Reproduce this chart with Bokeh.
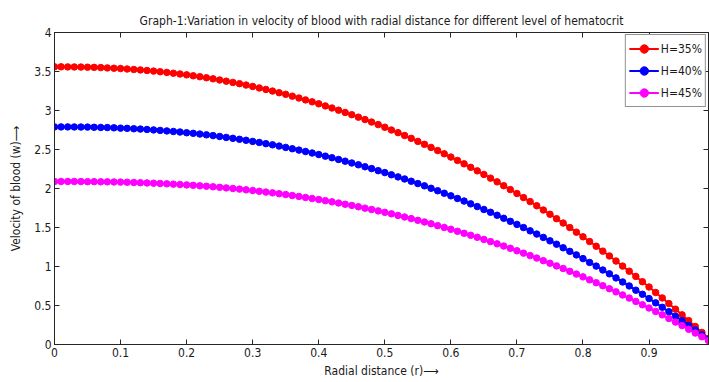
from bokeh.plotting import figure
from bokeh.models import Range1d, LinearAxis, FixedTicker, ColumnDataSource, Legend, LegendItem, CustomJSTickFormatter
from bokeh.embed import file_html
from bokeh.resources import INLINE

r = [round(i * 0.01, 2) for i in range(100)]

h35 = [3.560, 3.560, 3.559, 3.558, 3.557, 3.555, 3.553, 3.550, 3.546, 3.542,
       3.538, 3.532, 3.526, 3.520, 3.513, 3.505, 3.497, 3.488, 3.478, 3.468,
       3.457, 3.445, 3.433, 3.420, 3.406, 3.391, 3.376, 3.360, 3.344, 3.326,
       3.308, 3.289, 3.270, 3.249, 3.228, 3.207, 3.184, 3.160, 3.136, 3.111,
       3.086, 3.059, 3.032, 3.004, 2.975, 2.946, 2.915, 2.884, 2.852, 2.819,
       2.785, 2.750, 2.716, 2.680, 2.643, 2.604, 2.566, 2.527, 2.486, 2.445,
       2.403, 2.360, 2.316, 2.271, 2.226, 2.180, 2.133, 2.085, 2.036, 1.986,
       1.936, 1.884, 1.832, 1.779, 1.724, 1.670, 1.613, 1.557, 1.499, 1.440,
       1.381, 1.320, 1.260, 1.197, 1.135, 1.070, 1.005, 0.940, 0.873, 0.805,
       0.737, 0.667, 0.597, 0.525, 0.453, 0.380, 0.306, 0.231, 0.155, 0.078]

h40 = [2.790, 2.790, 2.790, 2.789, 2.788, 2.787, 2.785, 2.783, 2.781, 2.778,
       2.774, 2.771, 2.766, 2.762, 2.757, 2.751, 2.745, 2.738, 2.731, 2.724,
       2.715, 2.707, 2.698, 2.688, 2.678, 2.667, 2.655, 2.643, 2.631, 2.618,
       2.604, 2.590, 2.575, 2.560, 2.544, 2.527, 2.510, 2.492, 2.474, 2.455,
       2.435, 2.415, 2.394, 2.372, 2.350, 2.327, 2.304, 2.279, 2.255, 2.229,
       2.204, 2.176, 2.149, 2.122, 2.093, 2.063, 2.034, 2.003, 1.971, 1.939,
       1.906, 1.872, 1.839, 1.803, 1.768, 1.731, 1.695, 1.657, 1.618, 1.579,
       1.540, 1.499, 1.457, 1.416, 1.373, 1.329, 1.286, 1.240, 1.194, 1.149,
       1.101, 1.052, 1.005, 0.955, 0.906, 0.854, 0.802, 0.751, 0.696, 0.644,
       0.589, 0.534, 0.477, 0.421, 0.362, 0.305, 0.245, 0.186, 0.124, 0.063]

h45 = [2.090, 2.090, 2.090, 2.090, 2.089, 2.088, 2.088, 2.086, 2.085, 2.084,
       2.082, 2.080, 2.077, 2.074, 2.071, 2.068, 2.064, 2.060, 2.056, 2.051,
       2.046, 2.041, 2.035, 2.029, 2.022, 2.015, 2.008, 2.000, 1.992, 1.983,
       1.974, 1.964, 1.954, 1.944, 1.933, 1.922, 1.910, 1.898, 1.885, 1.872,
       1.858, 1.844, 1.829, 1.814, 1.798, 1.783, 1.766, 1.748, 1.731, 1.713,
       1.694, 1.675, 1.655, 1.635, 1.614, 1.592, 1.571, 1.548, 1.524, 1.501,
       1.477, 1.451, 1.426, 1.400, 1.374, 1.347, 1.319, 1.291, 1.262, 1.233,
       1.202, 1.171, 1.140, 1.108, 1.075, 1.042, 1.008, 0.974, 0.938, 0.903,
       0.867, 0.829, 0.792, 0.754, 0.715, 0.675, 0.635, 0.595, 0.552, 0.510,
       0.468, 0.424, 0.380, 0.333, 0.288, 0.242, 0.195, 0.147, 0.099, 0.050]

series_labels = ["H=35%", "H=40%", "H=45%"]
series_colors = ["#ff0000", "#0000ff", "#ff00ff"]

x_ticks = [0, 0.1, 0.2, 0.3, 0.4, 0.5, 0.6, 0.7, 0.8, 0.9]
x_tick_labels = ["0", "0.1", "0.2", "0.3", "0.4", "0.5", "0.6", "0.7", "0.8", "0.9"]
y_ticks = [0, 0.5, 1, 1.5, 2, 2.5, 3, 3.5, 4]
y_tick_labels = ["0", "0.5", "1", "1.5", "2", "2.5", "3", "3.5", "4"]

FONT = "'DejaVu Sans Condensed', 'DejaVu Sans'"
AX = "#262626"
TXT = "#1a1a1a"

p = figure(width=709, height=382, output_backend="svg", toolbar_location=None,
           x_range=Range1d(0, 0.99), y_range=Range1d(0, 4),
           min_border_left=54, min_border_right=1, min_border_top=32, min_border_bottom=38,
           title="Graph-1:Variation in velocity of blood with radial distance for different level of hematocrit")
p.title.align = "center"
p.title.text_font = FONT
p.title.text_font_size = "12px"
p.title.text_font_style = "normal"
p.title.text_color = TXT
p.title.offset = 0
p.xgrid.visible = False
p.ygrid.visible = False
p.outline_line_color = AX
p.background_fill_color = "white"
p.border_fill_color = "white"

def style_axis(ax, ticks, labels):
    ax.ticker = FixedTicker(ticks=ticks)
    if labels is not None:
        ax.major_label_overrides = {t: l for t, l in zip(ticks, labels)}
        ax.major_label_text_font = FONT
        ax.major_label_text_font_size = "12px"
        ax.major_label_text_color = TXT
    else:
        ax.formatter = CustomJSTickFormatter(code="return '';")
        ax.major_label_standoff = 0
    ax.major_tick_in = 5
    ax.major_tick_out = 0
    ax.minor_tick_in = 0
    ax.minor_tick_out = 0
    ax.axis_line_color = AX
    ax.major_tick_line_color = AX

style_axis(p.xaxis[0], x_ticks, x_tick_labels)
style_axis(p.yaxis[0], y_ticks, y_tick_labels)
p.xaxis[0].axis_label = "Radial distance (r)\u27f6"
p.yaxis[0].axis_label = "Velocity of blood (w)\u27f6"
for ax in (p.xaxis[0], p.yaxis[0]):
    ax.axis_label_text_font = FONT
    ax.axis_label_text_font_size = "12px"
    ax.axis_label_text_font_style = "normal"
    ax.axis_label_text_color = TXT
p.xaxis[0].axis_label_standoff = 4
p.yaxis[0].axis_label_standoff = 8
p.xaxis[0].major_label_standoff = 3
p.yaxis[0].major_label_standoff = 3

top_ax = LinearAxis()
style_axis(top_ax, x_ticks, None)
right_ax = LinearAxis()
style_axis(right_ax, y_ticks, None)
p.add_layout(top_ax, "above")
p.add_layout(right_ax, "right")

items = []
for vals, lab, col in zip([h35, h40, h45], series_labels, series_colors):
    src = ColumnDataSource(dict(x=r, y=vals))
    ln = p.line("x", "y", source=src, line_color=col, line_width=2)
    sc = p.scatter("x", "y", source=src, marker="circle", size=6.5,
                   fill_color=col, line_color=col)
    items.append(LegendItem(label=lab, renderers=[ln, sc]))

legend = Legend(items=items, location="top_right")
legend.label_text_font = FONT
legend.label_text_font_size = "12px"
legend.label_text_color = TXT
legend.border_line_color = AX
legend.border_line_width = 1
legend.background_fill_alpha = 1
legend.margin = 2
legend.padding = 3
legend.spacing = 1
legend.glyph_width = 30
legend.glyph_height = 21
legend.label_height = 21
legend.label_standoff = 2
p.add_layout(legend, "center")

open("out.html", "w").write(file_html(p, INLINE))
